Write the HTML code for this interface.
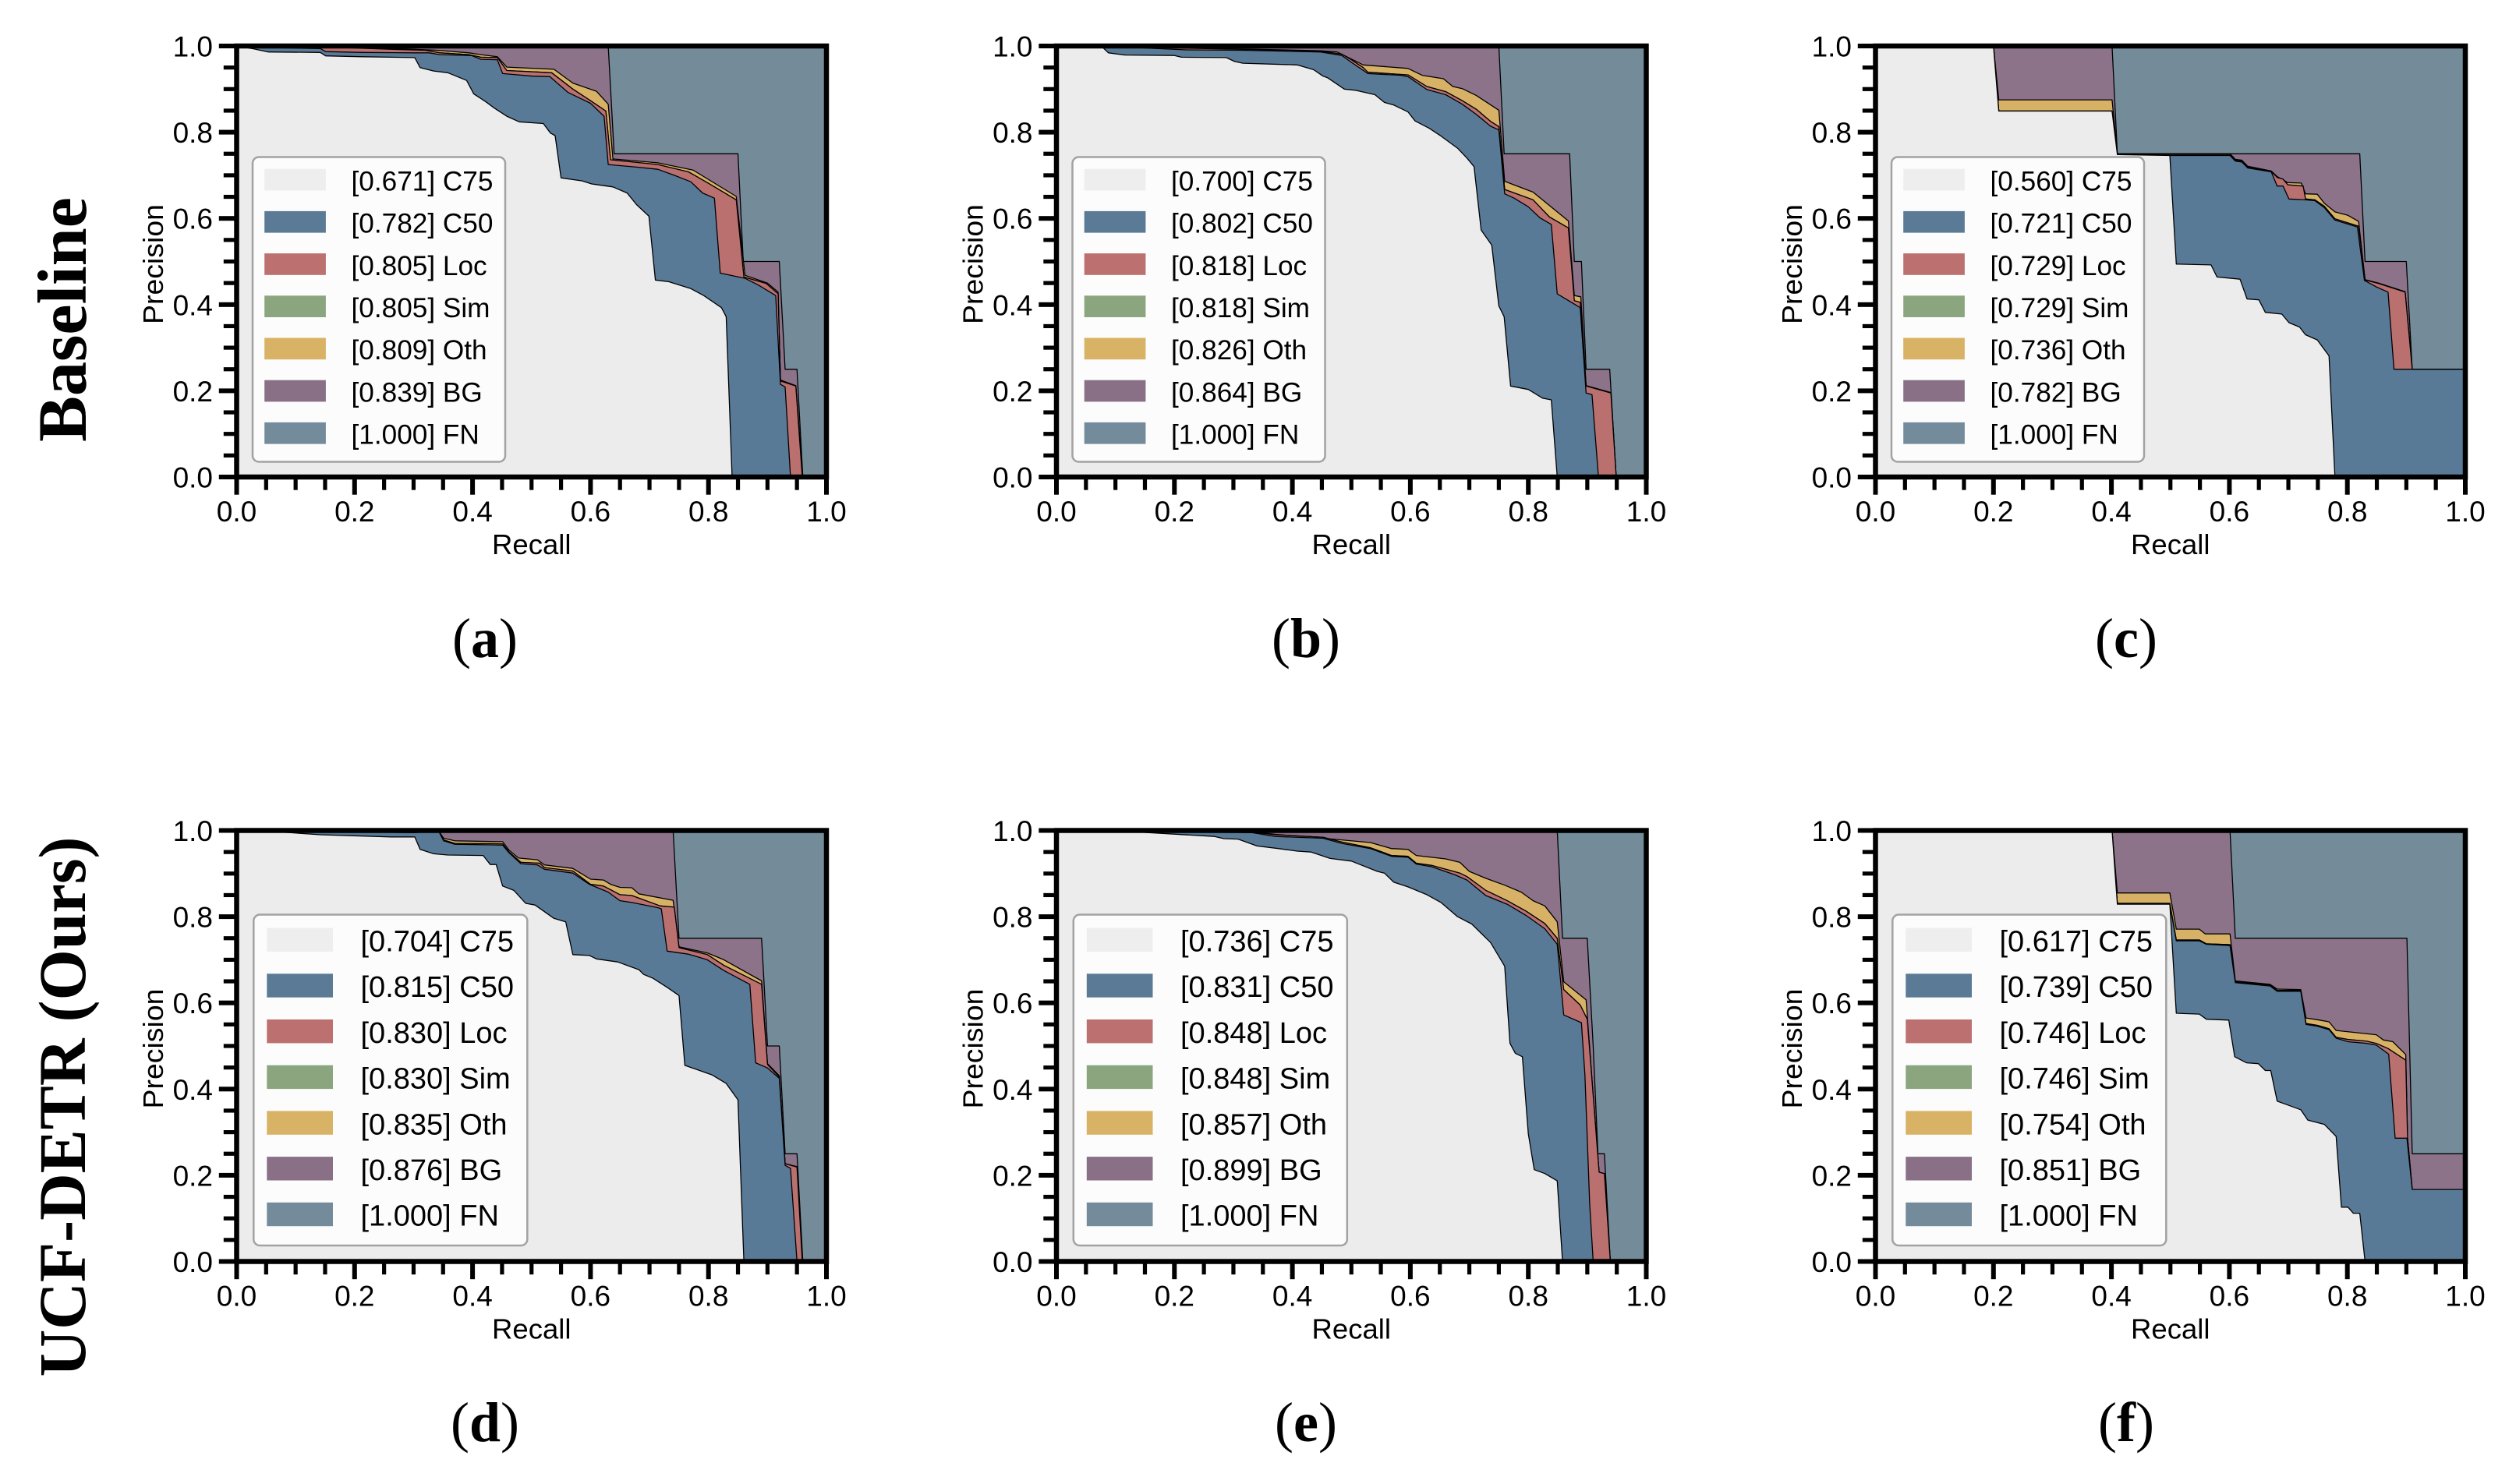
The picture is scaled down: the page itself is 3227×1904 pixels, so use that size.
<!DOCTYPE html>
<html lang="en">
<head>
<meta charset="utf-8">
<title>Precision-recall error breakdown</title>
<style>
html,body{margin:0;padding:0;background:#fff;width:3227px;height:1904px;overflow:hidden}
svg{display:block}
text{fill:#000;font-family:"Liberation Sans",sans-serif}
.serif{font-family:"Liberation Serif",serif}
</style>
</head>
<body>
<svg id="figure" xmlns="http://www.w3.org/2000/svg" width="3227" height="1904" viewBox="0 0 3227 1904">
  <rect width="3227" height="1904" fill="#fff"/>
  <text class="serif" transform="translate(110 410) rotate(-90)" text-anchor="middle" font-size="89" font-weight="700" textLength="314" lengthAdjust="spacingAndGlyphs">Baseline</text>
  <text class="serif" transform="translate(109 1420) rotate(-90)" text-anchor="middle" font-size="86" font-weight="700" textLength="693" lengthAdjust="spacingAndGlyphs">UCF-DETR (Ours)</text>
  <text class="serif" x="622" y="843" text-anchor="middle" font-size="72">(<tspan font-weight="700">a</tspan>)</text>
  <text class="serif" x="1675" y="843" text-anchor="middle" font-size="72">(<tspan font-weight="700">b</tspan>)</text>
  <text class="serif" x="2727" y="843" text-anchor="middle" font-size="72">(<tspan font-weight="700">c</tspan>)</text>
  <text class="serif" x="622" y="1849" text-anchor="middle" font-size="72">(<tspan font-weight="700">d</tspan>)</text>
  <text class="serif" x="1675" y="1849" text-anchor="middle" font-size="72">(<tspan font-weight="700">e</tspan>)</text>
  <text class="serif" x="2727" y="1849" text-anchor="middle" font-size="72">(<tspan font-weight="700">f</tspan>)</text>
</svg>
<script>
// Shared axis data
const majorTicks = [0, 0.2, 0.4, 0.6, 0.8, 1];
const minorTicks = [0.05, 0.1, 0.15, 0.25, 0.3, 0.35, 0.45, 0.5, 0.55, 0.65, 0.7, 0.75, 0.85, 0.9, 0.95];
const tickLabels = ['0.0', '0.2', '0.4', '0.6', '0.8', '1.0'];
const seriesNames = ['C75', 'C50', 'Loc', 'Sim', 'Oth', 'BG', 'FN'];

// Panel (a) [recall, precision]
const aAP = [0.671, 0.782, 0.805, 0.805, 0.809, 0.839, 1.000];
const aC75 = [[0,1],[.03,.993],[.054,.986],[.142,.985],[.151,.977],[.214,.975],[.302,.973],[.311,.95],[.334,.942],[.358,.938],[.39,.92],[.402,.889],[.422,.871],[.438,.855],[.458,.837],[.479,.824],[.52,.82],[.532,.798],[.54,.792],[.55,.694],[.586,.687],[.602,.68],[.638,.673],[.662,.659],[.678,.632],[.699,.605],[.71,.457],[.733,.453],[.77,.437],[.792,.421],[.822,.393],[.83,.372],[.84,0]];
const aC50 = [[0,1],[.03,.997],[.142,.994],[.151,.987],[.214,.985],[.302,.984],[.326,.984],[.345,.98],[.398,.978],[.414,.969],[.442,.968],[.451,.936],[.502,.93],[.531,.929],[.562,.892],[.6,.867],[.619,.842],[.623,.837],[.63,.725],[.678,.719],[.714,.714],[.742,.7],[.77,.685],[.79,.659],[.81,.647],[.82,.473],[.862,.461],[.885,.445],[.914,.421],[.922,.215],[.93,.209],[.939,0]];
const aLoc = [[0,1],[.142,.998],[.21,.995],[.266,.992],[.32,.99],[.345,.984],[.394,.98],[.414,.974],[.442,.973],[.458,.943],[.534,.938],[.57,.9],[.6,.873],[.626,.849],[.634,.736],[.714,.725],[.766,.708],[.798,.683],[.847,.643],[.86,.464],[.898,.449],[.918,.425],[.922,.223],[.948,.211],[.959,0]];
const aOth = [[0,1],[.22,.997],[.34,.99],[.394,.984],[.414,.98],[.442,.975],[.458,.951],[.538,.946],[.57,.914],[.61,.895],[.63,.865],[.638,.738],[.714,.729],[.774,.712],[.847,.651],[.862,.468],[.9,.45],[.918,.429],[.922,.225],[.948,.212],[.96,0]];
const aBG = [[0,1],[.63,1],[.64,.75],[.85,.75],[.859,.5],[.92,.5],[.93,.25],[.95,.25],[.96,0]];

// Panel (b)
const bAP = [0.700, 0.802, 0.818, 0.818, 0.826, 0.864, 1.000];
const bC75 = [[0,1],[.076,1],[.088,.984],[.116,.979],[.2,.978],[.212,.974],[.288,.973],[.302,.964],[.316,.96],[.408,.956],[.436,.945],[.452,.93],[.46,.926],[.488,.9],[.508,.897],[.54,.887],[.556,.869],[.572,.863],[.596,.847],[.608,.826],[.632,.809],[.652,.791],[.68,.763],[.696,.74],[.708,.72],[.72,.573],[.738,.538],[.75,.397],[.759,.372],[.77,.211],[.8,.203],[.824,.183],[.839,.179],[.849,0]];
const bC50 = [[0,1],[.076,1],[.22,.991],[.316,.99],[.448,.986],[.484,.978],[.5,.962],[.528,.936],[.584,.932],[.596,.929],[.628,.899],[.66,.887],[.688,.865],[.712,.841],[.736,.814],[.75,.805],[.76,.657],[.776,.647],[.8,.627],[.82,.601],[.839,.586],[.849,.425],[.888,.393],[.898,.195],[.908,.191],[.919,0]];
const bLoc = [[0,1],[.22,.995],[.316,.992],[.448,.988],[.484,.981],[.5,.968],[.52,.95],[.528,.939],[.596,.933],[.628,.906],[.66,.894],[.688,.873],[.712,.853],[.736,.825],[.75,.813],[.76,.667],[.808,.643],[.836,.603],[.868,.578],[.878,.409],[.888,.405],[.898,.211],[.94,.195],[.949,0]];
const bOth = [[0,1],[.316,.993],[.448,.989],[.476,.986],[.52,.956],[.596,.948],[.62,.932],[.656,.924],[.672,.906],[.688,.901],[.712,.885],[.75,.851],[.76,.686],[.808,.661],[.868,.594],[.878,.421],[.889,.418],[.898,.212],[.94,.196],[.949,0]];
const bBG = [[0,1],[.75,1],[.759,.75],[.87,.75],[.878,.5],[.89,.5],[.898,.25],[.938,.25],[.949,0]];

// Panel (c)
const cAP = [0.560, 0.721, 0.729, 0.729, 0.736, 0.782, 1.000];
const cC75 = [[0,1],[.2,1],[.209,.849],[.401,.849],[.41,.748],[.499,.746],[.51,.494],[.569,.492],[.579,.464],[.618,.459],[.63,.413],[.65,.411],[.661,.382],[.689,.378],[.701,.358],[.719,.348],[.729,.33],[.749,.318],[.769,.281],[.779,0]];
const cC50 = [[0,1],[.2,1],[.209,.849],[.401,.849],[.41,.748],[.499,.746],[.601,.746],[.61,.733],[.621,.731],[.631,.717],[.671,.708],[.681,.675],[.691,.675],[.701,.645],[.729,.643],[.745,.641],[.761,.625],[.779,.596],[.817,.58],[.829,.456],[.849,.441],[.869,.429],[.879,.25],[1,.25]];
const cLoc = [[0,1],[.2,1],[.209,.849],[.401,.849],[.41,.748],[.499,.747],[.601,.747],[.61,.735],[.621,.733],[.631,.719],[.671,.709],[.681,.695],[.691,.691],[.699,.678],[.725,.675],[.729,.645],[.745,.643],[.761,.628],[.779,.599],[.819,.582],[.83,.457],[.853,.449],[.898,.429],[.91,.25],[1,.25]];
const cOth = [[0,1],[.2,1],[.209,.875],[.401,.875],[.41,.75],[.601,.75],[.61,.737],[.621,.735],[.631,.721],[.671,.71],[.681,.697],[.699,.683],[.722,.682],[.729,.657],[.749,.656],[.761,.635],[.779,.615],[.801,.607],[.819,.593],[.83,.458],[.853,.45],[.898,.43],[.91,.25],[1,.25]];
const cBG = [[0,1],[.401,1],[.41,.75],[.821,.75],[.83,.5],[.9,.5],[.91,.25],[1,.25]];

// Panel (d)
const dAP = [0.704, 0.815, 0.830, 0.830, 0.835, 0.876, 1.000];
const dC75 = [[0,1],[.07,.997],[.142,.99],[.262,.985],[.302,.985],[.311,.956],[.334,.946],[.358,.943],[.418,.942],[.43,.921],[.44,.921],[.451,.871],[.47,.861],[.49,.831],[.506,.827],[.538,.796],[.558,.788],[.57,.712],[.598,.71],[.61,.702],[.646,.695],[.682,.677],[.69,.666],[.706,.657],[.73,.636],[.75,.617],[.76,.455],[.806,.433],[.83,.413],[.85,.375],[.86,0]];
const dC50 = [[0,1],[.302,.995],[.342,1],[.351,.976],[.37,.968],[.451,.966],[.462,.948],[.482,.923],[.51,.92],[.522,.91],[.57,.901],[.598,.875],[.63,.857],[.65,.837],[.67,.833],[.714,.821],[.72,.818],[.73,.72],[.766,.713],[.798,.7],[.826,.675],[.87,.643],[.88,.461],[.9,.449],[.92,.425],[.93,.223],[.939,.216],[.95,0]];
const dLoc = [[0,1],[.342,1],[.351,.978],[.37,.97],[.451,.969],[.462,.95],[.482,.926],[.514,.924],[.522,.914],[.57,.906],[.6,.875],[.622,.871],[.65,.851],[.67,.849],[.718,.825],[.742,.822],[.75,.728],[.798,.712],[.826,.687],[.89,.643],[.9,.457],[.92,.428],[.93,.227],[.95,.219],[.959,0]];
const dOth = [[0,1],[.342,1],[.351,.982],[.37,.976],[.451,.974],[.462,.954],[.478,.936],[.51,.932],[.522,.92],[.57,.912],[.6,.887],[.622,.885],[.634,.875],[.65,.868],[.67,.867],[.682,.853],[.74,.838],[.75,.73],[.798,.716],[.826,.7],[.89,.651],[.9,.459],[.92,.431],[.93,.227],[.95,.22],[.959,0]];
const dBG = [[0,1],[.74,1],[.75,.75],[.89,.75],[.9,.5],[.92,.5],[.93,.25],[.95,.25],[.96,0]];

// Panel (e)
const eAP = [0.736, 0.831, 0.848, 0.848, 0.857, 0.899, 1.000];
const eC75 = [[0,1],[.132,.997],[.268,.986],[.284,.981],[.308,.98],[.34,.964],[.376,.958],[.408,.952],[.432,.95],[.464,.935],[.5,.929],[.544,.905],[.556,.901],[.572,.88],[.596,.869],[.628,.851],[.652,.833],[.68,.8],[.704,.783],[.736,.74],[.76,.685],[.769,.506],[.778,.483],[.79,.475],[.8,.296],[.81,.213],[.828,.204],[.849,.187],[.858,0]];
const eC50 = [[0,1],[.132,.998],[.332,.995],[.372,.986],[.452,.982],[.484,.97],[.532,.958],[.568,.94],[.596,.938],[.61,.922],[.636,.916],[.676,.897],[.696,.885],[.728,.849],[.764,.829],[.796,.803],[.828,.772],[.849,.736],[.86,.572],[.89,.554],[.896,.433],[.904,.134],[.91,0]];
const eLoc = [[0,1],[.332,.996],[.372,.99],[.452,.984],[.484,.973],[.532,.96],[.568,.942],[.596,.94],[.61,.924],[.636,.919],[.684,.901],[.696,.893],[.728,.861],[.764,.837],[.796,.813],[.828,.784],[.849,.75],[.86,.631],[.888,.595],[.9,.562],[.91,.385],[.92,.207],[.929,.204],[.939,0]];
const eOth = [[0,1],[.332,.997],[.372,.991],[.46,.981],[.532,.972],[.568,.958],[.596,.956],[.61,.942],[.66,.934],[.684,.926],[.7,.905],[.728,.889],[.76,.873],[.788,.857],[.808,.837],[.828,.825],[.849,.788],[.86,.649],[.898,.607],[.91,.385],[.92,.207],[.929,.204],[.939,0]];
const eBG = [[0,1],[.849,1],[.858,.75],[.9,.75],[.91,.5],[.918,.25],[.929,.25],[.939,0]];

// Panel (f)
const fAP = [0.617, 0.739, 0.746, 0.746, 0.754, 0.851, 1.000];
const fC75 = [[0,1],[.401,1],[.41,.829],[.499,.829],[.51,.576],[.549,.574],[.561,.562],[.599,.56],[.609,.475],[.629,.461],[.649,.459],[.661,.443],[.67,.443],[.681,.372],[.697,.364],[.721,.352],[.733,.328],[.761,.318],[.781,.29],[.79,.126],[.801,.126],[.81,.112],[.821,.112],[.83,0]];
const fC50 = [[0,1],[.401,1],[.41,.829],[.499,.829],[.51,.744],[.549,.744],[.561,.736],[.601,.733],[.61,.647],[.669,.639],[.681,.627],[.721,.627],[.73,.55],[.749,.546],[.769,.538],[.781,.518],[.801,.51],[.833,.506],[.849,.502],[.87,.481],[.881,.286],[.901,.286],[.91,.167],[1,.167]];
const fLoc = [[0,1],[.401,1],[.41,.831],[.499,.831],[.51,.746],[.549,.746],[.561,.737],[.601,.735],[.61,.649],[.669,.641],[.681,.629],[.721,.629],[.73,.552],[.749,.548],[.769,.54],[.781,.52],[.801,.515],[.833,.511],[.849,.506],[.869,.494],[.899,.467],[.902,.286],[.91,.167],[1,.167]];
const fOth = [[0,1],[.401,1],[.41,.855],[.499,.855],[.51,.771],[.549,.771],[.559,.76],[.601,.76],[.61,.651],[.669,.643],[.681,.632],[.721,.631],[.73,.565],[.749,.561],[.769,.556],[.781,.536],[.849,.526],[.861,.514],[.877,.51],[.899,.48],[.902,.286],[.91,.167],[1,.167]];
const fBG = [[0,1],[.601,1],[.61,.75],[.901,.75],[.91,.25],[1,.25]];

const SVG_NS = 'http://www.w3.org/2000/svg';
const figure = document.getElementById('figure');
const plotColors = {C75:'#ececec', C50:'#587a97', Loc:'#bb7070', Sim:'#8ba67e', Oth:'#d7b266', BG:'#8c7389', FN:'#748c9a'};
const legendColors = {C75:'#eeeeee', C50:'#5a7a96', Loc:'#bc7070', Sim:'#8ba67e', Oth:'#d8b265', BG:'#8a7087', FN:'#738b9a'};

const legendRow1 = {bx:20.5, bw:324, by:142.5, bh:391, px:35.7, pw:78.7, py:157.7, ph:27.7, gap:54.2, tx:147, ty:185.4, fs:35.2};
const legendRow2 = {bx:21.8, bw:351, by:108, bh:424.5, px:38.8, pw:84.7, py:125.1, ph:30.4, gap:58.7, tx:159, ty:155, fs:38};

const panelConfigs = [
  {id:'a', left:303.5, top:59, legend:legendRow1, ap:aAP, C75:aC75, C50:aC50, Loc:aLoc, Sim:aLoc, Oth:aOth, BG:aBG},
  {id:'b', left:1355, top:59, legend:legendRow1, ap:bAP, C75:bC75, C50:bC50, Loc:bLoc, Sim:bLoc, Oth:bOth, BG:bBG},
  {id:'c', left:2405.5, top:59, legend:legendRow1, ap:cAP, C75:cC75, C50:cC50, Loc:cLoc, Sim:cLoc, Oth:cOth, BG:cBG},
  {id:'d', left:303.5, top:1065.5, legend:legendRow2, ap:dAP, C75:dC75, C50:dC50, Loc:dLoc, Sim:dLoc, Oth:dOth, BG:dBG},
  {id:'e', left:1355, top:1065.5, legend:legendRow2, ap:eAP, C75:eC75, C50:eC50, Loc:eLoc, Sim:eLoc, Oth:eOth, BG:eBG},
  {id:'f', left:2405.5, top:1065.5, legend:legendRow2, ap:fAP, C75:fC75, C50:fC50, Loc:fLoc, Sim:fLoc, Oth:fOth, BG:fBG}
];

function make(tag, attrs, parent, text) {
  const el = document.createElementNS(SVG_NS, tag);
  for (const k in attrs) el.setAttribute(k, attrs[k]);
  if (text !== undefined) el.textContent = text;
  parent.appendChild(el);
  return el;
}

const AXIS_W = 756.5, AXIS_H = 553;

function drawPanel(cfg) {
  const xScale = r => cfg.left + r * AXIS_W;
  const yScale = p => cfg.top + (1 - p) * AXIS_H;
  const right = xScale(1), bottom = yScale(0);

  const g = make('g', {}, figure);
  
  

  const clipId = 'clip-' + cfg.id;
  const defs = make('defs', {}, g);
  const clip = make('clipPath', {id: clipId}, defs);
  make('rect', {x: cfg.left, y: cfg.top, width: AXIS_W, height: AXIS_H}, clip);

  const plot = make('g', {'clip-path': 'url(#' + clipId + ')'}, g);
  
  

  const fn = make('rect', {x: cfg.left, y: cfg.top, width: AXIS_W, height: AXIS_H, fill: plotColors.FN}, plot);
  
  

  ['BG', 'Oth', 'Sim', 'Loc', 'C50', 'C75'].forEach(name => {
    const curve = cfg[name];
    const pts = curve.map(d => xScale(d[0]).toFixed(1) + ',' + yScale(d[1]).toFixed(1));
    const last = curve[curve.length - 1];
    pts.push(xScale(last[0]).toFixed(1) + ',' + bottom.toFixed(1));
    pts.push(cfg.left.toFixed(1) + ',' + bottom.toFixed(1));
    const area = make('polygon', {points: pts.join(' '), fill: plotColors[name]}, plot);
    
    
    const line = make('polyline', {
      points: curve.map(d => xScale(d[0]).toFixed(1) + ',' + yScale(d[1]).toFixed(1)).join(' '),
      fill: 'none', stroke: '#000', 'stroke-width': 1.3, 'stroke-linejoin': 'round'
    }, plot);
    
    
  });

  // Legend
  const L = cfg.legend;
  const lg = make('g', {}, g);
  
  
  const frame = make('rect', {x: cfg.left + L.bx, y: cfg.top + L.by, width: L.bw, height: L.bh, rx: 8, ry: 8, fill: '#fff', 'fill-opacity': 0.85, stroke: '#a2a2a2', 'stroke-width': 2.5}, lg);
  
  
  seriesNames.forEach((name, i) => {
    const patch = make('rect', {x: cfg.left + L.px, y: cfg.top + L.py + i * L.gap, width: L.pw, height: L.ph, fill: legendColors[name]}, lg);
    
    
    const label = make('text', {x: cfg.left + L.tx, y: cfg.top + L.ty + i * L.gap, 'font-size': L.fs}, lg, '[' + cfg.ap[i].toFixed(3) + '] ' + name);
    
    
  });

  // Ticks
  const ticks = make('g', {fill: '#000'}, g);
  
  
  minorTicks.forEach(v => {
    const tx = make('rect', {x: xScale(v) - 2.6, y: bottom, width: 5.2, height: 16.7}, ticks);
    
    
    const ty = make('rect', {x: cfg.left - 16.7, y: yScale(v) - 2.6, width: 16.7, height: 5.2}, ticks);
    
    
  });
  majorTicks.forEach((v, i) => {
    const tx = make('rect', {x: xScale(v) - 3, y: bottom, width: 6, height: 22.7}, ticks);
    
    
    const ty = make('rect', {x: cfg.left - 22.7, y: yScale(v) - 3, width: 22.7, height: 6}, ticks);
    
    
    const xl = make('text', {x: xScale(v), y: bottom + 57, 'font-size': 37, 'text-anchor': 'middle'}, g, tickLabels[i]);
    
    
    const yl = make('text', {x: cfg.left - 30.5, y: yScale(v) + 13.5, 'font-size': 37, 'text-anchor': 'end'}, g, tickLabels[i]);
    
    
  });

  // Spines
  const spine = make('rect', {x: cfg.left, y: cfg.top, width: AXIS_W, height: AXIS_H, fill: 'none', stroke: '#000', 'stroke-width': 6.5}, g);
  
  

  // Axis titles
  const xt = make('text', {x: (cfg.left + right) / 2, y: bottom + 99, 'font-size': 36.5, 'text-anchor': 'middle'}, g, 'Recall');
  
  
  const yt = make('text', {
    transform: 'translate(' + (cfg.left - 94.5) + ' ' + (cfg.top + 280) + ') rotate(-90)',
    'font-size': 36, 'text-anchor': 'middle', textLength: 154, lengthAdjust: 'spacingAndGlyphs'
  }, g, 'Precision');
  
  
}

panelConfigs.forEach(drawPanel);
</script>
</body>
</html>
